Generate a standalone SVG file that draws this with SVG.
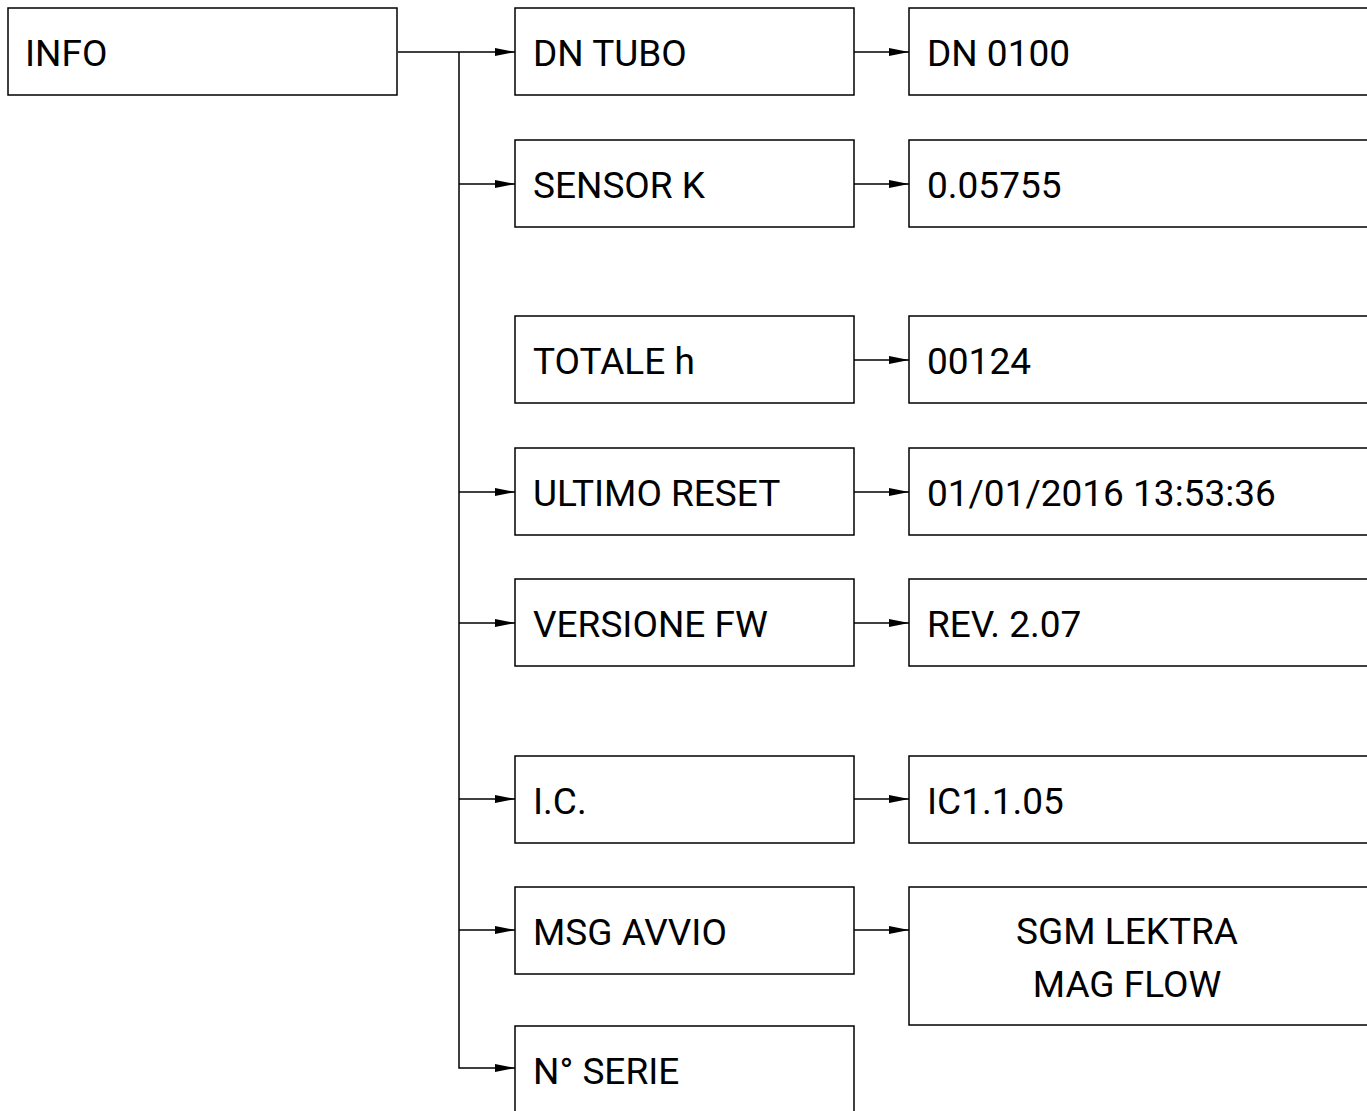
<svg xmlns="http://www.w3.org/2000/svg" width="1367" height="1111" viewBox="0 0 1367 1111">
<defs>
<marker id="arr" markerWidth="20" markerHeight="10" refX="20" refY="5" orient="auto" markerUnits="userSpaceOnUse" overflow="visible">
<path d="M0,1 L20,5 L0,9 Z" fill="#000"/>
</marker>
<style>
.box{fill:#fff;stroke:#000;stroke-width:1.5}
.t{font-family:Roboto,"Noto Sans",sans-serif;font-size:37px;fill:#000}
.c{stroke:#000;stroke-width:1.5;fill:none}
</style>
</defs>
<rect width="1367" height="1111" fill="#fff"/>
<g id="connectors">
<path class="c" d="M398,52 H515" marker-end="url(#arr)"/>
<path class="c" d="M459,52 V1068 H515" marker-end="url(#arr)"/>
<path class="c" d="M459,184 H515" marker-end="url(#arr)"/>
<path class="c" d="M459,492 H515" marker-end="url(#arr)"/>
<path class="c" d="M459,623 H515" marker-end="url(#arr)"/>
<path class="c" d="M459,799 H515" marker-end="url(#arr)"/>
<path class="c" d="M459,930 H515" marker-end="url(#arr)"/>
<path class="c" d="M854,52 H909" marker-end="url(#arr)"/>
<path class="c" d="M854,184 H909" marker-end="url(#arr)"/>
<path class="c" d="M854,360 H909" marker-end="url(#arr)"/>
<path class="c" d="M854,492 H909" marker-end="url(#arr)"/>
<path class="c" d="M854,623 H909" marker-end="url(#arr)"/>
<path class="c" d="M854,799 H909" marker-end="url(#arr)"/>
<path class="c" d="M854,930 H909" marker-end="url(#arr)"/>
</g>
<g id="info"><rect class="box" x="8" y="8" width="389" height="87"/><text class="t" x="25" y="66">INFO</text></g>
<g id="dn-tubo"><rect class="box" x="515" y="8" width="339" height="87"/><text class="t" x="533" y="66">DN TUBO</text></g>
<g id="sensor-k"><rect class="box" x="515" y="140" width="339" height="87"/><text class="t" x="533" y="198">SENSOR K</text></g>
<g id="totale-h"><rect class="box" x="515" y="316" width="339" height="87"/><text class="t" x="533" y="374">TOTALE h</text></g>
<g id="ultimo-reset"><rect class="box" x="515" y="448" width="339" height="87"/><text class="t" x="533" y="506">ULTIMO RESET</text></g>
<g id="versione-fw"><rect class="box" x="515" y="579" width="339" height="87"/><text class="t" x="533" y="637">VERSIONE FW</text></g>
<g id="ic"><rect class="box" x="515" y="756" width="339" height="87"/><text class="t" x="533" y="814">I.C.</text></g>
<g id="msg-avvio"><rect class="box" x="515" y="887" width="339" height="87"/><text class="t" x="533" y="945">MSG AVVIO</text></g>
<g id="n-serie"><rect class="box" x="515" y="1026" width="339" height="100"/><text class="t" x="533" y="1084">N° SERIE</text></g>
<g id="dn-0100"><rect class="box" x="909" y="8" width="470" height="87"/><text class="t" x="927" y="66">DN 0100</text></g>
<g id="k-value"><rect class="box" x="909" y="140" width="470" height="87"/><text class="t" x="927" y="198">0.05755</text></g>
<g id="hours"><rect class="box" x="909" y="316" width="470" height="87"/><text class="t" x="927" y="374">00124</text></g>
<g id="reset-date"><rect class="box" x="909" y="448" width="470" height="87"/><text class="t" x="927" y="506">01/01/2016 13:53:36</text></g>
<g id="rev"><rect class="box" x="909" y="579" width="470" height="87"/><text class="t" x="927" y="637">REV. 2.07</text></g>
<g id="ic-value"><rect class="box" x="909" y="756" width="470" height="87"/><text class="t" x="927" y="814">IC1.1.05</text></g>
<g id="startup-msg"><rect class="box" x="909" y="887" width="470" height="138"/><text class="t" x="1127" y="944" text-anchor="middle">SGM LEKTRA</text><text class="t" x="1127" y="997" text-anchor="middle">MAG FLOW</text></g>
</svg>
